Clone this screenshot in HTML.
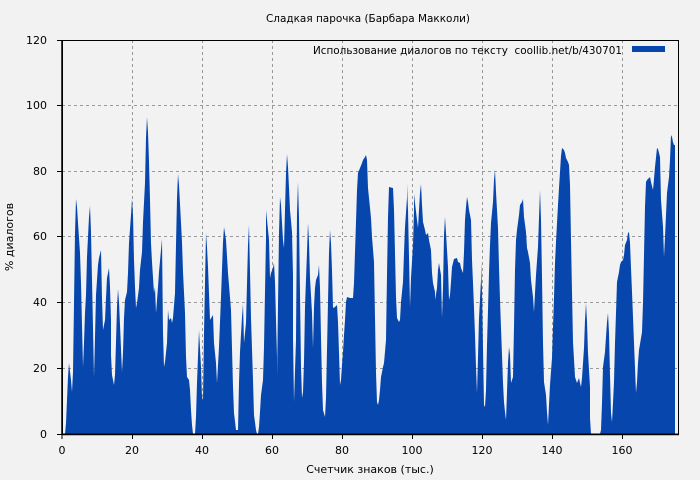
<!DOCTYPE html>
<html><head><meta charset="utf-8"><style>
html,body{margin:0;padding:0;background:#f2f2f2;}
svg{display:block;font-family:"DejaVu Sans","Liberation Sans",sans-serif;}
</style></head><body>
<svg width="700" height="480" viewBox="0 0 700 480" xmlns="http://www.w3.org/2000/svg">
<rect width="700" height="480" fill="#f2f2f2"/>
<text x="368" y="22" font-size="11" text-anchor="middle" fill="#000" textLength="204" lengthAdjust="spacingAndGlyphs">Сладкая парочка (Барбара Макколи)</text>
<g stroke="#999" stroke-width="1" stroke-dasharray="3,3" fill="none">
<line x1="132.5" y1="40" x2="132.5" y2="434"/><line x1="202.5" y1="40" x2="202.5" y2="434"/>
<line x1="272.5" y1="40" x2="272.5" y2="434"/><line x1="342.5" y1="40" x2="342.5" y2="434"/>
<line x1="412.5" y1="40" x2="412.5" y2="434"/><line x1="482.5" y1="40" x2="482.5" y2="434"/>
<line x1="552.5" y1="40" x2="552.5" y2="434"/><line x1="622.5" y1="40" x2="622.5" y2="434"/>
<line x1="62" y1="105.5" x2="678" y2="105.5"/><line x1="62" y1="171.5" x2="678" y2="171.5"/>
<line x1="62" y1="236.5" x2="678" y2="236.5"/><line x1="62" y1="302.5" x2="678" y2="302.5"/>
<line x1="62" y1="368.5" x2="678" y2="368.5"/>
</g>
<polygon fill="#0746ad" points="65,434 66,423 67,400 68,377 69,363 71,380 72,392 73,372 74,303 75,233 76,199 77,207 78,223 79,238 80,253 81,283 82,325 83,367 84,343 85,313 86,295 87,257 89,217 90,206 91,232 92,280 93,328 94,377 95,337 96,295 98,265 99,258 101,250 102,298 103,330 105,320 106,298 107,278 109,268 110,287 111,320 111,355 112,375 114,385 115,375 116,342 117,307 118,289 119,302 120,325 122,372 123,353 124,318 125,300 127,292 128,273 129,243 131,215 132,199 133,215 134,260 135,287 136,308 137,303 139,288 140,270 142,252 143,222 145,183 146,138 147,117 148,132 149,162 150,200 151,243 152,262 154,293 155,287 156,313 158,287 159,272 161,250 162,239 163,333 164,367 165,362 167,343 168,310 169,320 171,318 172,323 173,318 175,293 176,245 177,198 178,174 179,185 181,223 182,242 183,272 185,313 186,357 187,377 189,380 190,390 191,410 192,425 193,434 195,434 196,417 197,383 199,330 201,367 202,397 203,400 204,333 206,233 207,247 208,267 210,320 213,315 214,343 216,363 217,383 219,347 221,297 223,242 224,227 226,240 228,273 231,310 233,387 234,413 236,430 238,430 239,383 240,352 242,317 243,304 244,343 246,323 248,245 249,225 251,318 253,380 254,415 256,430 257,434 258,434 259,427 260,412 261,395 263,380 264,347 265,292 266,238 266,210 267,220 269,240 270,278 271,273 273,268 274,263 275,282 276,320 277,357 277,377 278,305 279,233 280,197 281,205 282,223 283,240 284,248 285,210 286,173 287,154 288,167 289,188 290,210 292,232 293,275 293,338 294,402 296,340 297,213 298,182 299,218 300,293 301,367 302,398 303,392 304,362 305,307 307,252 308,223 309,242 310,278 312,313 313,348 314,307 315,288 316,280 318,275 319,265 320,288 321,337 322,383 323,410 325,417 326,398 327,350 328,302 329,253 330,230 331,243 332,270 333,308 335,307 337,305 338,322 339,353 340,385 341,380 342,365 343,352 344,335 345,320 346,302 347,297 350,298 353,298 354,283 355,252 356,222 357,190 358,173 360,168 362,163 363,160 365,157 366,155 367,160 368,188 369,198 371,218 372,237 374,262 375,318 376,373 377,402 378,405 379,400 380,390 381,377 383,367 384,363 386,340 387,275 388,217 389,187 393,188 394,210 395,253 396,297 397,318 399,322 400,320 401,302 403,282 404,253 405,227 407,198 407,184 408,210 409,257 410,307 411,278 413,245 414,210 414,194 415,203 417,220 418,228 419,210 420,193 421,184 422,205 423,222 425,230 426,235 428,233 429,240 431,250 432,273 433,283 435,292 435,300 437,288 438,270 439,263 441,275 442,318 443,288 444,235 445,217 446,233 448,267 449,300 450,295 451,282 452,267 454,259 457,258 458,262 460,263 461,268 463,273 464,252 465,220 466,207 467,197 468,202 469,210 471,220 472,260 473,283 474,308 475,335 476,367 477,393 478,357 479,318 481,280 481,262 482,290 483,348 484,405 485,407 486,390 487,345 488,310 489,273 490,245 491,223 493,202 494,180 495,170 496,192 498,228 499,267 500,300 501,328 502,355 503,383 504,402 505,412 506,420 507,392 508,363 509,347 510,355 511,383 513,377 514,327 515,270 516,240 517,230 519,215 520,205 522,202 523,199 524,217 526,232 527,248 528,252 530,263 531,280 533,297 534,312 535,293 536,275 538,247 539,218 540,190 541,220 542,277 543,343 544,382 546,395 547,412 548,425 549,405 550,385 552,358 553,327 554,297 555,263 556,242 557,223 558,205 559,188 560,172 561,156 562,148 564,150 565,153 566,158 568,162 569,165 570,185 571,240 572,292 573,342 575,377 576,380 577,383 579,378 580,383 581,387 582,378 584,348 585,320 586,303 587,322 588,353 590,387 590,418 591,434 600,434 601,430 602,403 603,367 605,352 606,337 607,322 608,313 609,333 610,375 611,413 612,422 613,403 614,382 615,343 616,313 617,282 618,277 619,272 620,265 621,262 623,260 624,255 625,245 627,240 628,233 629,232 630,243 631,268 632,292 633,317 634,343 635,368 636,393 637,382 638,363 639,350 641,338 642,332 643,303 644,255 645,207 646,182 647,180 649,178 650,177 651,182 653,190 654,179 655,167 657,148 658,149 659,153 660,157 661,200 663,227 664,257 665,237 666,215 667,193 669,177 670,160 671,135 672,137 673,142 674,145 675,145 675,434"/>
<rect x="62.5" y="40.5" width="616" height="393.5" fill="none" stroke="#000" stroke-width="1"/>
<line x1="62" y1="434.5" x2="679" y2="434.5" stroke="#000" stroke-width="1.5"/>
<line x1="62" y1="40" x2="62" y2="435" stroke="#000" stroke-width="1.5"/>
<g stroke="#000" stroke-width="1">
<line x1="62" y1="434" x2="62" y2="439"/><line x1="132.5" y1="434" x2="132.5" y2="439"/><line x1="202.5" y1="434" x2="202.5" y2="439"/><line x1="272.5" y1="434" x2="272.5" y2="439"/><line x1="342.5" y1="434" x2="342.5" y2="439"/><line x1="412.5" y1="434" x2="412.5" y2="439"/><line x1="482.5" y1="434" x2="482.5" y2="439"/><line x1="552.5" y1="434" x2="552.5" y2="439"/><line x1="622.5" y1="434" x2="622.5" y2="439"/>
<line x1="57" y1="40.5" x2="62" y2="40.5"/><line x1="57" y1="105.5" x2="62" y2="105.5"/><line x1="57" y1="171.5" x2="62" y2="171.5"/><line x1="57" y1="236.5" x2="62" y2="236.5"/><line x1="57" y1="302.5" x2="62" y2="302.5"/><line x1="57" y1="368.5" x2="62" y2="368.5"/><line x1="57" y1="434.5" x2="62" y2="434.5"/>
</g>
<g font-size="11" fill="#000" text-anchor="end">
<text x="47" y="44">120</text><text x="47" y="109">100</text><text x="47" y="175">80</text><text x="47" y="240">60</text><text x="47" y="306">40</text><text x="47" y="372">20</text><text x="47" y="438">0</text>
</g>
<g font-size="11" fill="#000" text-anchor="middle">
<text x="62" y="454">0</text><text x="132" y="454">20</text><text x="202" y="454">40</text><text x="272" y="454">60</text><text x="342" y="454">80</text><text x="412" y="454">100</text><text x="482" y="454">120</text><text x="552" y="454">140</text><text x="622" y="454">160</text>
</g>
<text x="370" y="473" font-size="11" text-anchor="middle">Счетчик знаков (тыс.)</text>
<text transform="translate(13,237) rotate(-90)" font-size="11" text-anchor="middle">% диалогов</text>
<text x="313" y="54" font-size="11" textLength="309" lengthAdjust="spacingAndGlyphs" xml:space="preserve">Использование диалогов по тексту  coollib.net/b/430701</text>
<rect x="632" y="46" width="33" height="6" fill="#0746ad"/>
</svg>
</body></html>
